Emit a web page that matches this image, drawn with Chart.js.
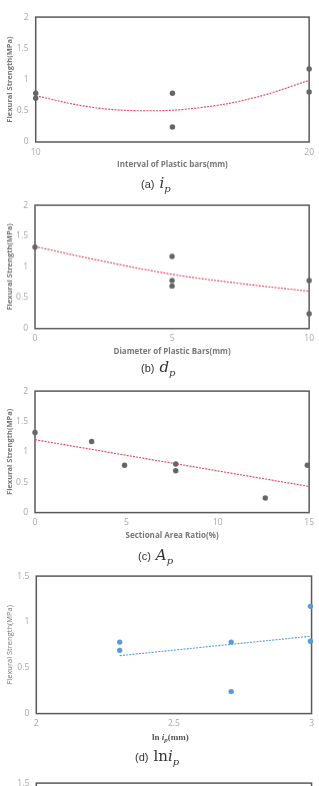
<!DOCTYPE html>
<html><head><meta charset="utf-8">
<script src="https://cdn.jsdelivr.net/npm/chart.js@4"></script>
<style>
html,body{margin:0;padding:0;background:#fff;width:319px;height:786px;overflow:hidden;position:relative;}
.panel{position:absolute;left:0;width:319px;}
.cap{position:absolute;white-space:nowrap;color:#333;}
.cap .lab{font-family:"Liberation Sans",Arial,sans-serif;font-size:11px;vertical-align:middle;}
.cap .m{font-family:"DejaVu Serif","Liberation Serif",serif;font-size:15px;vertical-align:middle;margin-left:5px;}
.cap .m i{font-style:italic;}
.cap .m sub{font-size:10px;font-style:italic;vertical-align:-4px;}
.xt{position:absolute;font-family:"Liberation Serif",serif;font-weight:bold;font-size:9px;color:#555;white-space:nowrap;}
.xt sub{font-size:7px;vertical-align:-2px;}
</style></head><body>
<div class="panel" id="pa"><canvas id="ca"></canvas></div>
<div class="panel" id="pb"><canvas id="cb"></canvas></div>
<div class="panel" id="pc"><canvas id="cc"></canvas></div>
<div class="panel" id="pd"><canvas id="cd"></canvas></div>
<div class="panel" id="pe"><canvas id="ce"></canvas></div>
<div class="cap" style="left:141px;top:174px"><span class="lab">(a)</span><span class="m"><i>i</i><sub>p</sub></span></div>
<div class="cap" style="left:141px;top:358px"><span class="lab">(b)</span><span class="m"><i>d</i><sub>p</sub></span></div>
<div class="cap" style="left:138px;top:546px"><span class="lab">(c)</span><span class="m"><i>A</i><sub>p</sub></span></div>
<div class="cap" style="left:135px;top:747px"><span class="lab">(d)</span><span class="m">ln<i>i</i><sub>p</sub></span></div>
<div class="xt" style="left:152px;top:732px">ln <i>i<sub>p</sub></i>(mm)</div>
<script>
// ---- data ----
const xA = [10, 10, 15, 15, 20, 20];
const yA = [0.78, 0.70, 0.78, 0.24, 1.17, 0.80];
const trendXA = [10, 12, 14, 16, 18, 20];
const trendYA = [0.74, 0.56, 0.50, 0.55, 0.71, 0.985];

const xB = [0, 5, 5, 5, 10, 10];
const yB = [1.32, 1.17, 0.78, 0.69, 0.78, 0.24];
const trendXB = [0, 2.5, 5, 7.5, 10];
const trendYB = [1.33, 1.09, 0.88, 0.73, 0.605];

const xC = [0, 3.1, 4.9, 7.7, 7.7, 12.6, 14.9];
const yC = [1.32, 1.17, 0.78, 0.80, 0.69, 0.24, 0.78];
const trendXC = [0, 15];
const trendYC = [1.20, 0.43];

const xD = [2.303, 2.303, 2.708, 2.708, 2.996, 2.996];
const yD = [0.78, 0.69, 0.78, 0.24, 1.17, 0.79];
const trendXD = [2.303, 2.996];
const trendYD = [0.632, 0.844];

const yTitle = 'Flexural Strength(MPa)';
const xTitleA = 'Interval of Plastic bars(mm)';
const xTitleB = 'Diameter of Plastic Bars(mm)';
const xTitleC = 'Sectional Area Ratio(%)';

const pts = (xs, ys) => xs.map((x, i) => ({x, y: ys[i]}));

const boxPlugin = {
  id: 'box',
  beforeDatasetsDraw(chart) {
    const a = chart.chartArea, c = chart.ctx;
    c.save();
    c.strokeStyle = '#595959';
    c.lineWidth = 1.5;
    c.strokeRect(a.left, a.top, a.right - a.left, a.bottom - a.top);
    c.restore();
  }
};

function panel(id, cid, o) {
  const padTop = 8, xh = o.xh || 28;
  const top = o.top - padTop;
  const h = (o.bottom - o.top) + padTop + xh;
  const el = document.getElementById(id);
  el.style.top = top + 'px';
  el.style.height = h + 'px';
  const datasets = [];
  if (o.x) datasets.push({type: 'scatter', data: pts(o.x, o.y), backgroundColor: o.pc, borderColor: o.pc,
    pointRadius: 2.7, pointHoverRadius: 2.7, borderWidth: 0, clip: false, order: 1});
  if (o.tx) datasets.push({type: 'line', data: pts(o.tx, o.ty), borderColor: o.lc, borderWidth: 1.1,
    borderDash: [2, 1.2], pointRadius: 0, tension: 0.4, fill: false, clip: false, order: 2});
  new Chart(document.getElementById(cid), {
    type: 'scatter',
    data: {datasets},
    plugins: [boxPlugin],
    options: {
      responsive: true, maintainAspectRatio: false, animation: false,
      layout: {padding: {top: padTop, right: 319 - o.right, left: 0, bottom: 0}},
      plugins: {legend: {display: false}, tooltip: {enabled: false}},
      scales: {
        x: {
          type: 'linear', min: o.xmin, max: o.xmax,
          grid: {display: false, drawTicks: false},
          border: {display: false},
          ticks: {stepSize: o.xstep, padding: 5, color: '#a6a6a6', font: {family: 'Open Sans', size: 8.5}, maxRotation: 0,
            callback: v => o.xticks.includes(v) ? String(v) : null},
          title: {display: !!o.xtitle, text: o.xtitle, color: '#777', padding: {top: 0, bottom: 0},
            font: {family: 'Open Sans', size: 8, weight: 'bold'}},
          afterFit: s => { s.height = xh; }
        },
        y: {
          min: 0, max: o.ymax,
          grid: {display: false, drawTicks: false},
          border: {display: false},
          ticks: {stepSize: 0.5, padding: 7, color: '#a6a6a6', font: {family: 'Open Sans', size: 8.5},
            callback: v => String(v)},
          title: {display: true, text: yTitle, color: '#777', padding: {top: 5, bottom: 0},
            font: {family: 'Open Sans', size: 7.5, weight: o.ytw || 'bold'}},
          afterFit: s => { s.width = o.left; }
        }
      }
    }
  });
}

panel('pa', 'ca', {top: 12.7, bottom: 141.7, left: 35.7, right: 312, xmin: 10, xmax: 20, xstep: 10, xticks: [10, 20],
  ymax: 2, x: xA, y: yA, tx: trendXA, ty: trendYA, pc: '#666666', lc: '#e0405e', xtitle: xTitleA});
panel('pb', 'cb', {top: 201, bottom: 327.7, left: 35, right: 312, xmin: 0, xmax: 10, xstep: 5, xticks: [0, 5, 10],
  ymax: 2, x: xB, y: yB, tx: trendXB, ty: trendYB, pc: '#666666', lc: '#e0405e', xtitle: xTitleB});
panel('pc', 'cc', {top: 386.7, bottom: 512.3, left: 35, right: 312.7, xmin: 0, xmax: 15, xstep: 5, xticks: [0, 5, 10, 15],
  ymax: 2, x: xC, y: yC, tx: trendXC, ty: trendYC, pc: '#666666', lc: '#e0405e', xtitle: xTitleC});
panel('pd', 'cd', {top: 571.7, bottom: 713.3, left: 36.3, right: 314.7, xmin: 2, xmax: 3, xstep: 0.5, xticks: [2, 2.5, 3],
  ymax: 1.5, x: xD, y: yD, tx: trendXD, ty: trendYD, pc: '#5b9bd5', lc: '#5b9bd5', xtitle: '', ytw: 'normal'});
panel('pe', 'ce', {top: 779, bottom: 921, left: 36.3, right: 314.7, xmin: 2, xmax: 3, xstep: 0.5, xticks: [2, 2.5, 3],
  ymax: 1.5, pc: '#5b9bd5', lc: '#5b9bd5', xtitle: '', ytw: 'normal'});
</script>
</body></html>
